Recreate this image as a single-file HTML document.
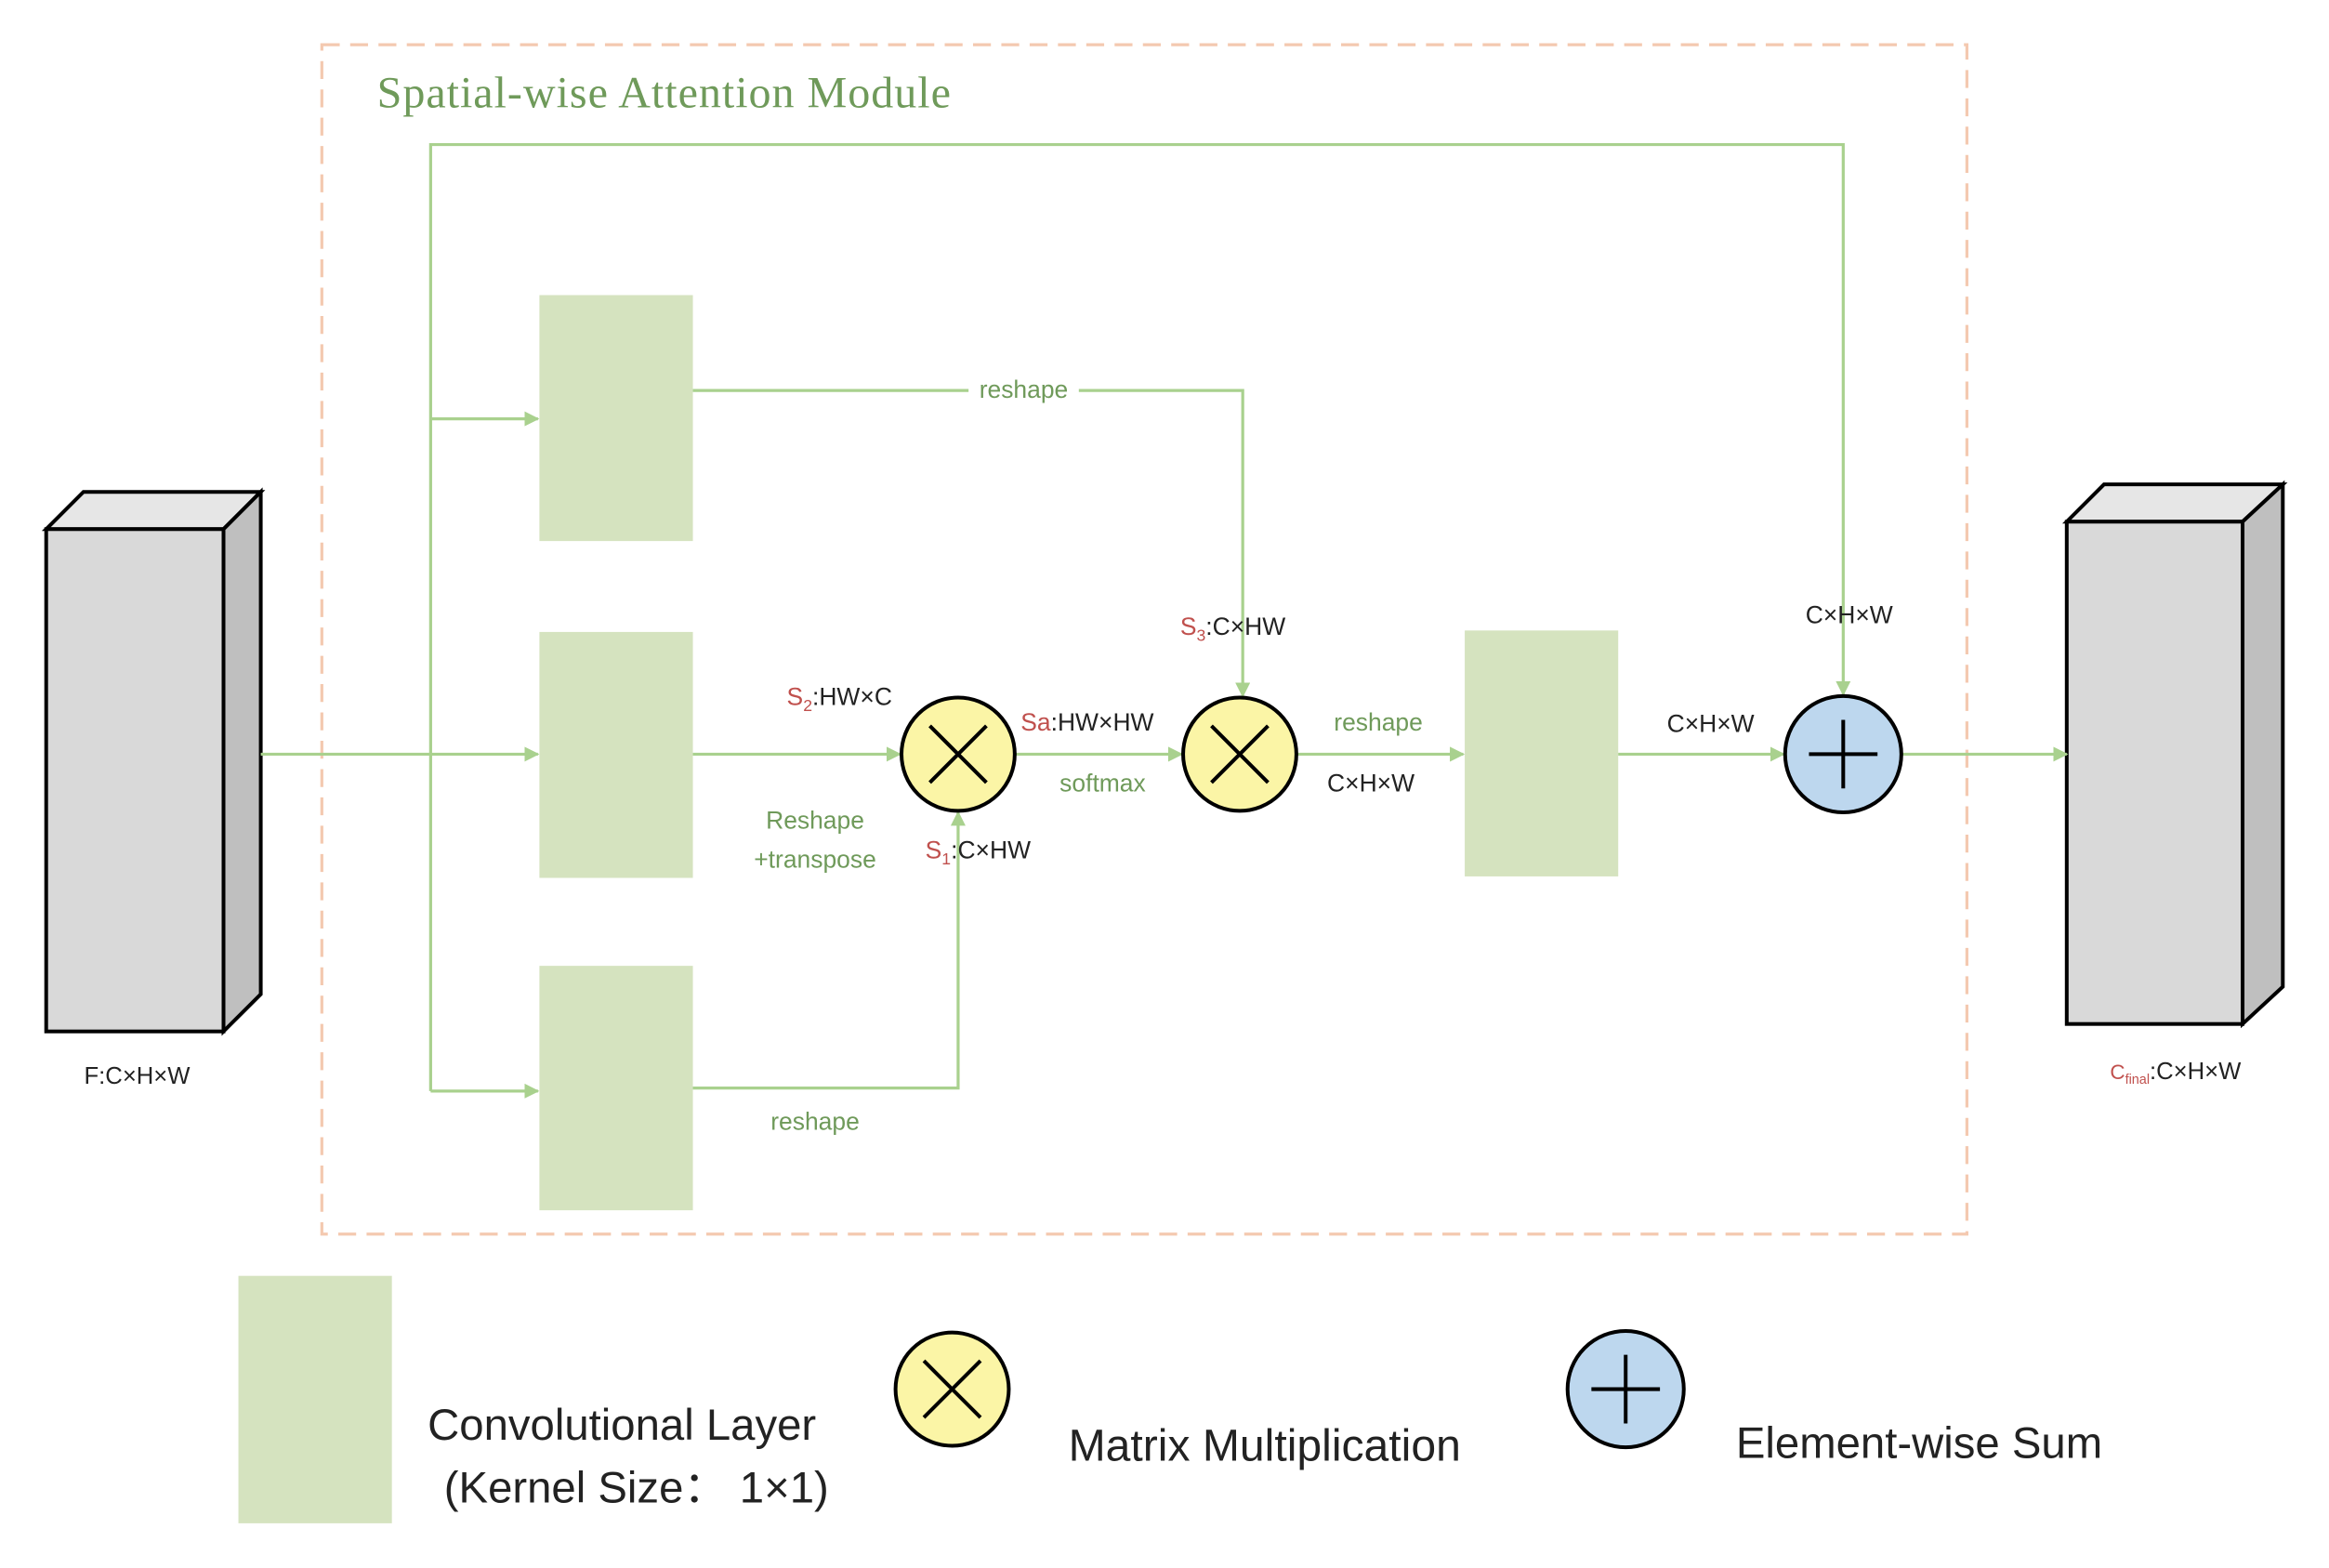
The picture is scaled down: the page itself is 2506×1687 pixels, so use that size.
<!DOCTYPE html>
<html><head><meta charset="utf-8"><style>
html,body{margin:0;padding:0;background:#fff;}
svg{display:block;}
text{font-family:"Liberation Sans","DejaVu Sans",sans-serif;}
</style></head><body>
<svg width="2506" height="1687" viewBox="0 0 1563 1052" preserveAspectRatio="none" xmlns="http://www.w3.org/2000/svg">
<defs>
<marker id="a" markerWidth="10" markerHeight="10" refX="9" refY="5" orient="auto" markerUnits="userSpaceOnUse">
<path d="M0,0 L10,5 L0,10 z" fill="#a9d18e"/></marker>
</defs>
<rect x="0" y="0" width="1563" height="1052" fill="#fff"/>
<rect x="216" y="30" width="1104" height="798" fill="none" stroke="#f4c9b0" stroke-width="2" stroke-dasharray="12,7"/>
<text x="253" y="72" font-size="30" fill="#6f9a5a" letter-spacing="0.6" style="font-family:'Liberation Serif',serif">Spatial-wise Attention Module</text>

<!-- left cube -->
<polygon points="31,355 56,330 175,330 150,355" fill="#e6e6e6" stroke="#000" stroke-width="2.5"/>
<polygon points="150,355 175,330 175,667 150,692" fill="#bfbfbf" stroke="#000" stroke-width="2.5"/>
<rect x="31" y="355" width="119" height="337" fill="#d9d9d9" stroke="#000" stroke-width="2.5"/>
<text x="92" y="727" font-size="16" text-anchor="middle" fill="#222">F:C×H×W</text>
<!-- right cube -->
<polygon points="1387,350 1412,325 1532,325 1505,350" fill="#e6e6e6" stroke="#000" stroke-width="2.5"/>
<polygon points="1505,350 1532,325 1532,662 1505,687" fill="#bfbfbf" stroke="#000" stroke-width="2.5"/>
<rect x="1387" y="350" width="118" height="337" fill="#d9d9d9" stroke="#000" stroke-width="2.5"/>
<text x="1460" y="724" font-size="16" text-anchor="middle" fill="#222"><tspan fill="#c0504d" font-size="14">C</tspan><tspan fill="#c0504d" font-size="9" dy="3">final</tspan><tspan dy="-3">:C×H×W</tspan></text>

<!-- conv rects -->
<g fill="#d5e3bf">
<rect x="362" y="198" width="103" height="165"/>
<rect x="362" y="424" width="103" height="165"/>
<rect x="362" y="648" width="103" height="164"/>
<rect x="983" y="423" width="103" height="165"/>
</g>

<!-- connectors -->
<g stroke="#a9d18e" stroke-width="2" fill="none">
<line x1="175" y1="506" x2="361" y2="506" marker-end="url(#a)"/>
<polyline points="289,732 289,97 1237,97 1237,466" marker-end="url(#a)"/>
<line x1="289" y1="281" x2="361" y2="281" marker-end="url(#a)"/>
<line x1="289" y1="732" x2="361" y2="732" marker-end="url(#a)"/>
<polyline points="465,262 834,262 834,467" marker-end="url(#a)"/>
<line x1="465" y1="506" x2="604" y2="506" marker-end="url(#a)"/>
<polyline points="465,730 643,730 643,545" marker-end="url(#a)"/>
<line x1="681" y1="506" x2="793" y2="506" marker-end="url(#a)"/>
<line x1="870" y1="506" x2="982" y2="506" marker-end="url(#a)"/>
<line x1="1086" y1="506" x2="1197" y2="506" marker-end="url(#a)"/>
<line x1="1276" y1="506" x2="1387" y2="506" marker-end="url(#a)"/>
</g>
<rect x="650" y="252" width="74" height="18" fill="#fff"/>
<text x="687" y="267" font-size="16.5" text-anchor="middle" fill="#6f9a5a">reshape</text>

<!-- circles -->
<g stroke="#000" stroke-width="2.5">
<circle cx="643" cy="506" r="38" fill="#fbf5a6"/>
<line x1="624" y1="487" x2="662" y2="525"/><line x1="662" y1="487" x2="624" y2="525"/>
<circle cx="832" cy="506" r="38" fill="#fbf5a6"/>
<line x1="813" y1="487" x2="851" y2="525"/><line x1="851" y1="487" x2="813" y2="525"/>
<circle cx="1237" cy="506" r="39" fill="#bdd7ee"/>
<line x1="1214" y1="506" x2="1260" y2="506"/><line x1="1237" y1="483" x2="1237" y2="529"/>
</g>

<!-- labels -->
<g font-size="16.5" fill="#222">
<text x="528" y="473"><tspan fill="#c0504d">S</tspan><tspan fill="#c0504d" font-size="11" dy="4">2</tspan><tspan dy="-4">:HW×C</tspan></text>
<text x="685" y="490"><tspan fill="#c0504d">Sa</tspan>:HW×HW</text>
<text x="740" y="531" text-anchor="middle" fill="#6f9a5a">softmax</text>
<text x="547" y="556" text-anchor="middle" fill="#6f9a5a">Reshape</text>
<text x="547" y="582" text-anchor="middle" fill="#6f9a5a">+transpose</text>
<text x="621" y="576"><tspan fill="#c0504d">S</tspan><tspan fill="#c0504d" font-size="11" dy="4">1</tspan><tspan dy="-4">:C×HW</tspan></text>
<text x="547" y="758" text-anchor="middle" fill="#6f9a5a">reshape</text>
<text x="792" y="426"><tspan fill="#c0504d">S</tspan><tspan fill="#c0504d" font-size="11" dy="4">3</tspan><tspan dy="-4">:C×HW</tspan></text>
<text x="925" y="490" text-anchor="middle" fill="#6f9a5a">reshape</text>
<text x="920" y="531" text-anchor="middle">C×H×W</text>
<text x="1148" y="491" text-anchor="middle">C×H×W</text>
<text x="1241" y="418" text-anchor="middle">C×H×W</text>
</g>

<!-- legend -->
<rect x="160" y="856" width="103" height="166" fill="#d5e3bf"/>
<text x="287" y="966" font-size="29.5" fill="#222">Convolutional Layer</text>
<text x="298" y="1008" font-size="29.5" fill="#222">(Kernel Size： 1×1)</text>
<g stroke="#000" stroke-width="2.5">
<circle cx="639" cy="932" r="38" fill="#fbf5a6"/>
<line x1="620" y1="913" x2="658" y2="951"/><line x1="658" y1="913" x2="620" y2="951"/>
<circle cx="1091" cy="932" r="39" fill="#bdd7ee"/>
<line x1="1068" y1="932" x2="1114" y2="932"/><line x1="1091" y1="909" x2="1091" y2="955"/>
</g>
<text x="717" y="980" font-size="30" fill="#222">Matrix Multiplication</text>
<text x="1165" y="978" font-size="29.5" fill="#222">Element-wise Sum</text>
</svg>
</body></html>
